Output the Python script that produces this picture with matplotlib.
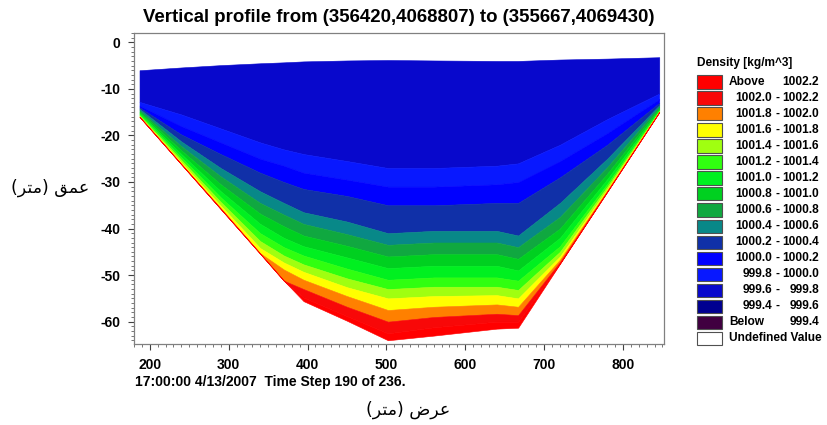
import matplotlib.pyplot as plt
from matplotlib.patches import Rectangle
from matplotlib.ticker import MultipleLocator

plt.rcParams['font.family'] = ['Liberation Sans', 'DejaVu Sans']
plt.rcParams['font.weight'] = 'bold'
plt.rcParams['axes.unicode_minus'] = False

# stations along the section (m), water surface and bed elevation (m)
dist = [187, 240, 290, 340, 370, 395, 450, 502, 560, 640, 667, 720, 780, 846]
surface = [-6.0, -5.4, -4.9, -4.5, -4.3, -4.1, -3.9, -3.8, -3.9, -4.0, -4.0, -3.7, -3.5, -3.2]
bed = [-16.0, -26.2, -35.8, -45.4, -51.2, -55.6, -59.8, -64.0, -63.0, -61.5, -61.3, -47.6, -32.1, -15.0]

# depth of each density contour at the stations
z_999_8 = [-12.8, -15.5, -18.5, -21.5, -23.0, -24.0, -25.5, -27.0, -27.0, -26.5, -26.0, -22.0, -16.5, -11.0]
z_1000_0 = [-13.6, -18.0, -21.5, -25.0, -26.5, -28.0, -29.5, -31.0, -31.0, -30.5, -30.0, -25.5, -19.5, -12.2]
z_1000_2 = [-14.0, -19.8, -24.0, -28.0, -30.0, -31.5, -33.0, -35.0, -35.0, -34.5, -34.5, -29.0, -22.0, -13.0]
z_1000_4 = [-14.3, -21.3, -27.0, -32.0, -34.5, -36.5, -38.5, -41.0, -40.5, -40.5, -41.5, -34.5, -25.0, -13.5]
z_1000_6 = [-14.6, -22.3, -28.8, -34.5, -37.0, -39.0, -41.2, -43.5, -43.0, -43.0, -44.0, -37.5, -26.8, -13.8]
z_1000_8 = [-14.9, -23.2, -30.5, -36.8, -39.5, -41.5, -43.7, -46.0, -45.5, -45.5, -46.5, -40.0, -28.2, -14.1]
z_1001_0 = [-15.2, -24.0, -32.0, -39.0, -42.0, -43.8, -46.2, -48.5, -48.0, -48.0, -49.0, -42.0, -29.4, -14.4]
z_1001_2 = [-15.45, -24.7, -33.3, -41.0, -44.0, -45.8, -48.6, -51.0, -50.5, -50.5, -51.2, -43.8, -30.4, -14.6]
z_1001_4 = [-15.7, -25.3, -34.3, -42.7, -45.8, -47.7, -50.7, -53.0, -52.5, -52.5, -53.2, -45.0, -31.0, -14.75]
z_1001_6 = [-15.9, -25.8, -35.1, -44.2, -47.3, -49.3, -52.6, -55.0, -54.5, -54.3, -55.0, -46.0, -31.5, -14.85]
z_1001_8 = [-16.0, -26.1, -35.6, -45.3, -48.8, -51.0, -54.5, -57.5, -56.8, -56.3, -56.8, -46.7, -31.8, -14.92]
z_1002_0 = [-16.0, -26.2, -35.8, -45.4, -51.2, -53.0, -56.8, -60.0, -59.0, -58.3, -58.6, -47.2, -32.0, -14.97]
z_1002_2 = [-16.0, -26.2, -35.8, -45.4, -51.2, -54.8, -58.8, -62.5, -61.2, -60.0, -60.0, -47.5, -32.1, -15.0]

# legend classes, top to bottom
class_low = ['Above', '1002.0', '1001.8', '1001.6', '1001.4', '1001.2', '1001.0', '1000.8',
             '1000.6', '1000.4', '1000.2', '1000.0', '999.8', '999.6', '999.4', 'Below']
class_high = ['1002.2', '1002.2', '1002.0', '1001.8', '1001.6', '1001.4', '1001.2', '1001.0',
              '1000.8', '1000.6', '1000.4', '1000.2', '1000.0', '999.8', '999.6', '999.4']
class_colors = ['#FF0000', '#F80808', '#FF8000', '#FFFF00', '#A0FF10', '#30FF10', '#00F020',
                '#00D020', '#10A840', '#088888', '#1030A8', '#0000FF', '#0818FF', '#0808CC',
                '#000090', '#400040']

fig = plt.figure(figsize=(8.27, 4.25), dpi=100)
W, H = 827, 425


def fx(px):
    return px / W


def fy(py):
    return 1 - py / H


ax = fig.add_axes([fx(134), fy(344), fx(664) - fx(134), fy(33) - fy(344)])

# bands from the surface layer down to the bed
isopycnals = [z_999_8, z_1000_0, z_1000_2, z_1000_4, z_1000_6, z_1000_8, z_1001_0,
              z_1001_2, z_1001_4, z_1001_6, z_1001_8, z_1002_0, z_1002_2]
tops = [surface] + isopycnals
bottoms = isopycnals + [bed]
band_colors = class_colors[13::-1]
for top, bot, c in zip(tops, bottoms, band_colors):
    ax.fill_between(dist, top, bot, facecolor=c, edgecolor=c, linewidth=0.4)

ax.set_xlim(180, 852)
ax.set_ylim(-64.8, 2)
ax.xaxis.set_major_locator(MultipleLocator(100))
ax.xaxis.set_minor_locator(MultipleLocator(10))
ax.yaxis.set_major_locator(MultipleLocator(10))
ax.yaxis.set_minor_locator(MultipleLocator(1))
ax.tick_params(which='major', length=4, width=0.8, color='#404040', labelsize=10, pad=6)
ax.tick_params(which='minor', length=2, width=0.6, color='#606060')
for lab in ax.get_xticklabels() + ax.get_yticklabels():
    lab.set_fontweight('bold')
for s in ax.spines.values():
    s.set_color('#808080')
    s.set_linewidth(0.9)

fig.text(fx(399), fy(17), 'Vertical profile from (356420,4068807) to (355667,4069430)',
         ha='center', va='center', fontsize=13.4, fontweight='bold')
fig.text(fx(135), fy(382), '17:00:00 4/13/2007  Time Step 190 of 236.',
         ha='left', va='center', fontsize=10, fontweight='bold')

# Arabic axis labels, shaped glyphs in visual order
fig.text(fx(408), fy(410), '(\uFEAE\uFE98\uFEE3) \uFEBD\uFEAE\uFECB',
         ha='center', va='center', fontsize=12.5, fontweight='normal', family=['DejaVu Sans'])
fig.text(fx(50), fy(188), '(\uFEAE\uFE98\uFEE3) \uFED6\uFEE4\uFECB',
         ha='center', va='center', fontsize=12.5, fontweight='normal', family=['DejaVu Sans'])

# legend
fs = 8.6
fig.text(fx(697), fy(63), 'Density [kg/m^3]', ha='left', va='center',
         fontsize=fs, fontweight='bold')
row0, step = 82, 16.0
for i, (lo, hi, c) in enumerate(zip(class_low, class_high, class_colors)):
    yc = row0 + i * step
    fig.patches.append(Rectangle((fx(697), fy(yc + 6.5)), fx(25), 13 / H, facecolor=c,
                                 edgecolor='#505050', linewidth=0.8,
                                 transform=fig.transFigure, figure=fig))
    if lo in ('Above', 'Below'):
        fig.text(fx(729), fy(yc), lo, ha='left', va='center', fontsize=fs, fontweight='bold')
    else:
        fig.text(fx(772), fy(yc), lo, ha='right', va='center', fontsize=fs, fontweight='bold')
        fig.text(fx(777.5), fy(yc), '-', ha='center', va='center', fontsize=fs, fontweight='bold')
    fig.text(fx(819), fy(yc), hi, ha='right', va='center', fontsize=fs, fontweight='bold')
yc = row0 + len(class_low) * step
fig.patches.append(Rectangle((fx(697), fy(yc + 6.5)), fx(25), 13 / H, facecolor='white',
                             edgecolor='#505050', linewidth=0.8,
                             transform=fig.transFigure, figure=fig))
fig.text(fx(729), fy(yc), 'Undefined Value', ha='left', va='center', fontsize=fs,
         fontweight='bold')

fig.savefig('out.png', dpi=100)
